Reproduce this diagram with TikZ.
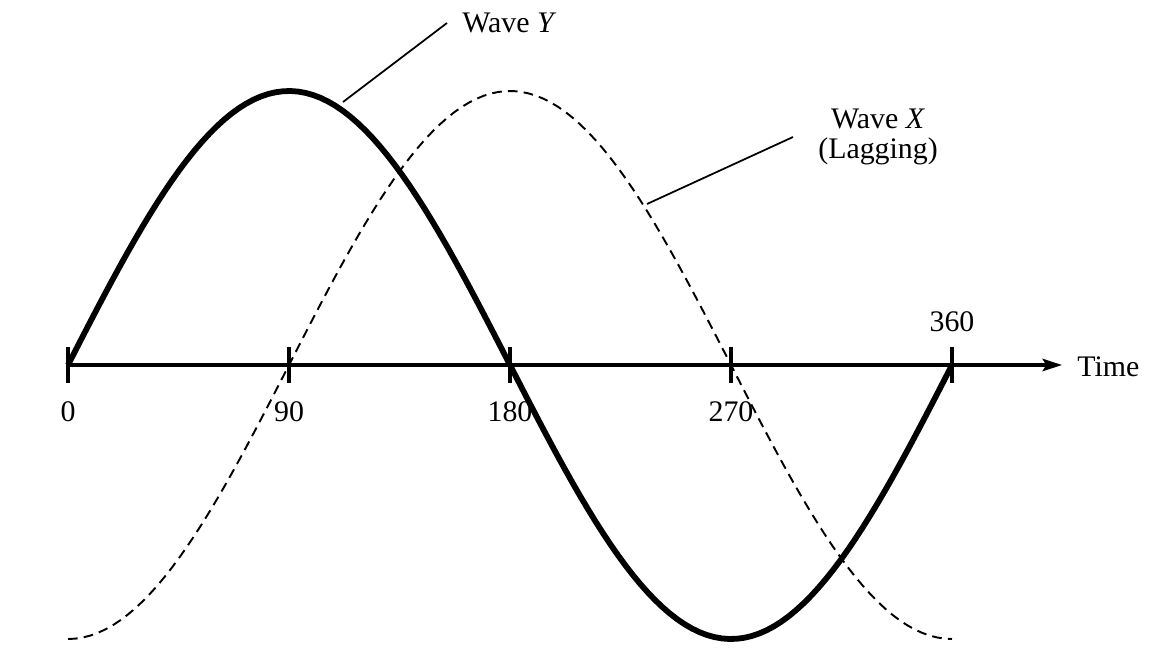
\documentclass[tikz,border=0pt]{standalone}
\usepackage{fontspec}
\setmainfont{Liberation Serif}
\usetikzlibrary{arrows.meta}

\begin{document}
\begin{tikzpicture}[x=0.02cm,y=0.02cm,
    every node/.style={font=\fontsize{17}{20}\selectfont},
    wavey/.style={line width=3.3pt,line join=round},
    wavex/.style={line width=1.1pt,dash pattern=on 5.5pt off 3.5pt},
    axisline/.style={line width=2pt,-{Stealth[length=11pt,width=7pt,inset=2pt]}},
    tick/.style={line width=2.2pt},
    leader/.style={line width=1pt}]
\useasboundingbox (-68,-299) rectangle (1106,365);

% time axis with ticks
\draw[axisline] (0,0) coordinate (o) -- (994,0) coordinate (tend);
\node[anchor=west,inner sep=0pt] (time) at (1009,-2) {Time};
\foreach \d in {0,90,180,270,360}
  \draw[tick] ({\d*2.45556},18) -- ({\d*2.45556},-18);
\foreach \d in {0,90,180,270}
  \node (l\d) at ({\d*2.45556},-47) {\d};
\node (l360) at (884,43) {360};

% the two waves
\draw[wavex] plot[domain=0:360,samples=120] ({\x*2.45556},{-274*cos(\x)});
\draw[wavey] plot[domain=0:360,samples=120] ({\x*2.45556},{274*sin(\x)});

% labels
\node[anchor=west,inner sep=0.3cm] (wyl) at (379,342) {Wave \textit{Y}};
\coordinate (ypt) at (275,263);
\draw[leader] (ypt) -- (wyl.west);

\node[anchor=west,align=center,inner sep=0.5cm] (wxl) at (725,228) {Wave \textit{X}\\[-3pt](Lagging)};
\coordinate (xpt) at (579,161);
\draw[leader] (xpt) -- (wxl.west);
\end{tikzpicture}
\end{document}
